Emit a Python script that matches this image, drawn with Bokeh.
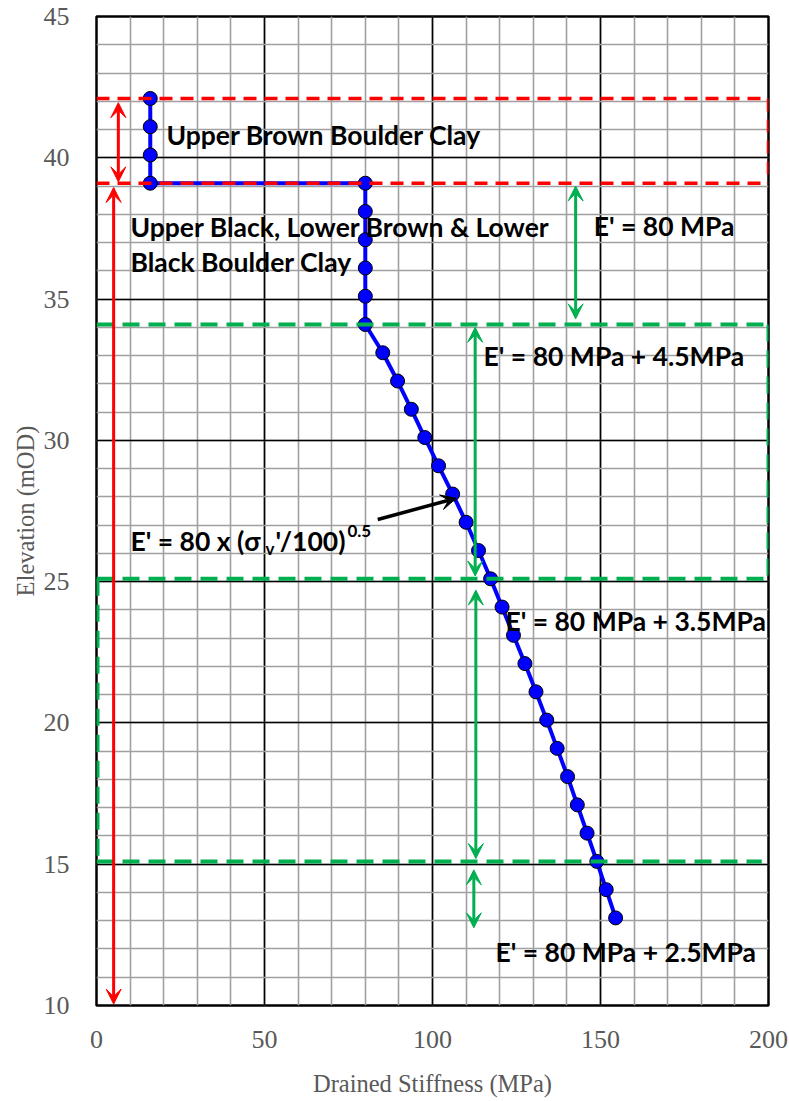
from bokeh.plotting import figure
from bokeh.models import Label, Arrow, VeeHead, SingleIntervalTicker, Range1d
from bokeh.embed import file_html
from bokeh.resources import INLINE

# ---- data ----
stiffness = [16, 16, 16, 16, 80, 80, 80, 80, 80, 80,
             85.2, 89.6, 93.7, 97.7, 101.8, 106, 110, 113.7, 117.3, 120.7,
             124.1, 127.5, 130.8, 134, 137.1, 140.2, 143.1, 146, 148.9, 151.7, 154.5]
elevation = [42.1, 41.1, 40.1, 39.1, 39.1, 38.1, 37.1, 36.1, 35.1, 34.1,
             33.1, 32.1, 31.1, 30.1, 29.1, 28.1, 27.1, 26.1, 25.1, 24.1,
             23.1, 22.1, 21.1, 20.1, 19.1, 18.1, 17.1, 16.1, 15.1, 14.1, 13.1]
red_bounds = [42.1, 39.1]
green_bounds = [34.1, 25.1, 15.1]
x_ticks = [0, 50, 100, 150, 200]
y_ticks = [10, 15, 20, 25, 30, 35, 40, 45]

RED = "#FF0000"
GREEN = "#00B050"
BLUE = "#0000FF"
LABEL_FONT = "Lato"
LS = "26.5px"
SERIF = "Liberation Serif"

p = figure(frame_width=672, frame_height=989, width=789, height=1101,
           x_range=Range1d(0, 200), y_range=Range1d(10, 45),
           output_backend="svg", toolbar_location=None,
           min_border_left=96, min_border_right=21, min_border_top=16, min_border_bottom=96)
p.xaxis.ticker = SingleIntervalTicker(interval=50, num_minor_ticks=5)
p.yaxis.ticker = SingleIntervalTicker(interval=5, num_minor_ticks=5)
p.xgrid.ticker = p.xaxis.ticker
p.ygrid.ticker = p.yaxis.ticker
for g in (p.xgrid, p.ygrid):
    g.grid_line_color = "black"
    g.grid_line_width = 1.6
    g.minor_grid_line_color = "#a0a0a0"
    g.minor_grid_line_width = 1.6
p.outline_line_color = "black"
p.outline_line_width = 2.5
p.background_fill_color = "white"
for ax in (p.xaxis, p.yaxis):
    ax.axis_line_color = None
    ax.major_tick_line_color = None
    ax.minor_tick_line_color = None
    ax.major_label_text_font = SERIF
    ax.major_label_text_font_size = "26px"
    ax.major_label_text_color = "#595959"
    ax.axis_label_text_font = SERIF
    ax.axis_label_text_font_size = "24.5px"
    ax.axis_label_text_color = "#595959"
    ax.axis_label_text_font_style = "normal"
p.xaxis.axis_label = "Drained Stiffness (MPa)"
p.yaxis.axis_label = "Elevation (mOD)"
p.xaxis.major_label_standoff = 19
p.yaxis.major_label_standoff = 21
p.xaxis.axis_label_standoff = 19
p.yaxis.axis_label_standoff = 2

# data series
p.line(stiffness, elevation, line_color=BLUE, line_width=4)
p.scatter(stiffness, elevation, size=14, fill_color=BLUE, line_color="black", line_width=1)

# red layer box
p.multi_line([[0, 200], [0, 200], [200, 200]],
             [[red_bounds[0]] * 2, [red_bounds[1]] * 2, red_bounds],
             line_color=RED, line_width=3.5, line_dash="13 8")
# green boxes
p.multi_line([[0, 200], [0, 200], [0, 198], [200, 200], [0.3, 0.3]],
             [[green_bounds[0]] * 2, [green_bounds[1]] * 2, [green_bounds[2]] * 2,
              green_bounds[:2], green_bounds[1:]],
             line_color=GREEN, line_width=4, line_dash="17 9")

def darrow(x, y0, y1, color):
    p.add_layout(Arrow(x_start=x, y_start=y0, x_end=x, y_end=y1,
                       line_color=color, line_width=3,
                       start=VeeHead(size=15, line_color=color, fill_color=color, line_width=1),
                       end=VeeHead(size=15, line_color=color, fill_color=color, line_width=1)))

darrow(6.5, 41.95, 39.15, RED)
darrow(5.1, 38.95, 10.05, RED)
darrow(142.6, 39.0, 34.3, GREEN)
darrow(112.7, 34.0, 25.2, GREEN)
darrow(112.9, 24.7, 15.2, GREEN)
darrow(112.3, 14.8, 12.75, GREEN)
p.add_layout(Arrow(x_start=83.7, y_start=27.2, x_end=107.0, y_end=27.95,
                   line_color="black", line_width=3.5,
                   end=VeeHead(size=15, line_color="black", fill_color="black", line_width=1)))

def lab(x, y, t, size=LS, xo=0, yo=0):
    p.add_layout(Label(x=x, y=y, text=t, x_offset=xo, y_offset=yo,
                       text_font=LABEL_FONT, text_font_style="bold",
                       text_font_size=size, text_color="black",
                       text_align="left", text_baseline="middle"))

lab(20.8, 40.8, "Upper Brown Boulder Clay")
lab(10.1, 37.55, "Upper Black, Lower Brown & Lower")
lab(10.1, 36.3, "Black Boulder Clay")
lab(148.0, 37.6, "E' = 80 MPa")
lab(115.2, 33.0, "E' = 80 MPa + 4.5MPa")
lab(121.7, 23.6, "E' = 80 MPa + 3.5MPa")
lab(118.75, 11.9, "E' = 80 MPa + 2.5MPa")
# E' = 80 x (σv'/100)^0.5 built from pieces
lab(10.1, 26.45, "E' = 80 x (σ")
lab(10.1, 26.45, "v", size="17px", xo=135, yo=-8)
lab(10.1, 26.45, "'/100)", xo=145)
lab(10.1, 26.45, "0.5", size="17px", xo=217, yo=10)

open("out.html", "w").write(file_html(p, INLINE))
